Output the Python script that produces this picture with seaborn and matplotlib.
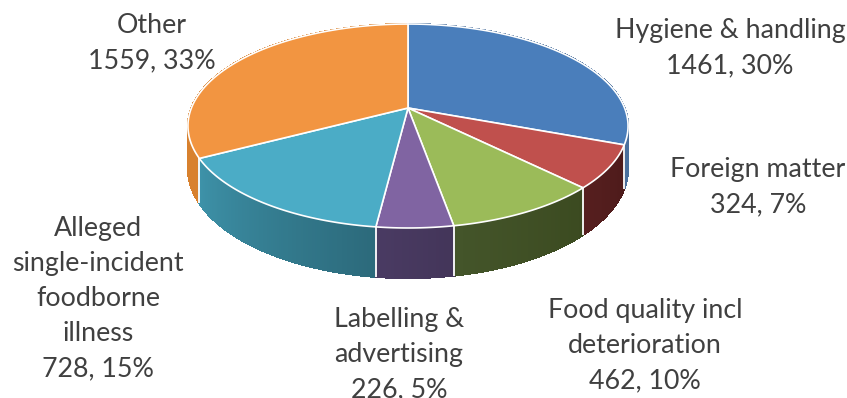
import numpy as np
import matplotlib
matplotlib.use("Agg")
import matplotlib.pyplot as plt
import seaborn as sns
from matplotlib.collections import PolyCollection

# data
categories = ["Hygiene & handling", "Foreign matter", "Food quality incl deterioration",
              "Labelling & advertising", "Alleged single-incident foodborne illness", "Other"]
counts = [1461, 324, 462, 226, 728, 1559]
pct_shown = [30, 7, 10, 5, 15, 33]
label_lines = [["Hygiene & handling"], ["Foreign matter"], ["Food quality incl", "deterioration"],
               ["Labelling &", "advertising"], ["Alleged", "single-incident", "foodborne", "illness"],
               ["Other"]]

top_colors = sns.color_palette(["#4a7ebb", "#c0504d", "#9bbb59", "#8064a2", "#4bacc6", "#f29541"])
# side colours: (right end, left end) as seen on screen
side_colors = [("#4a6f9c", "#4a6f9c"), ("#4d1a1a", "#561f1f"), ("#3b4a20", "#44552a"),
               ("#433559", "#4a3b63"), ("#2c6a7b", "#3e93aa"), ("#d8812e", "#d8812e")]

sns.set_theme(style="white")
plt.rcParams["font.family"] = ["Lato", "DejaVu Sans"]

# projection of the tilted disc (pixel space)
CX, CY = 408, 108
A, B, K, DEPTH = 216.6, 98.8, 0.1765, 41.2


def proj(phi, z=0.0):
    x = np.sin(phi)
    y = -np.cos(phi)
    d = 1 - K * y
    return CX + A * x / d, CY + (B * y + DEPTH * z) / d


fig = plt.figure(figsize=(8.47, 3.98), dpi=100)
ax = fig.add_axes([0, 0, 1, 1])
ax.set_xlim(0, 847)
ax.set_ylim(398, 0)
ax.axis("off")

total = float(sum(counts))
bounds = np.concatenate([[0], np.cumsum(counts)]) / total * 2 * np.pi

# side walls, painter's order
quads, qcols, qdepth = [], [], []
for i in range(len(counts)):
    a0, a1 = bounds[i], bounds[i + 1]
    n = max(4, int((a1 - a0) / 0.01))
    phis = np.linspace(a0, a1, n + 1)
    c_r = np.array(matplotlib.colors.to_rgb(side_colors[i][0]))
    c_l = np.array(matplotlib.colors.to_rgb(side_colors[i][1]))
    for j in range(n):
        p0, p1 = phis[j], phis[j + 1]
        x0, y0 = proj(p0)
        x1, y1 = proj(p1)
        x2, y2 = proj(p1, 1)
        x3, y3 = proj(p0, 1)
        quads.append([(x0, y0), (x1, y1), (x2, y2), (x3, y3)])
        t = (j + 0.5) / n
        qcols.append(tuple(c_r * (1 - t) + c_l * t))
        qdepth.append(-np.cos((p0 + p1) / 2))
order = np.argsort(qdepth)
pc = PolyCollection([quads[k] for k in order], facecolors=[qcols[k] for k in order],
                    edgecolors=[qcols[k] for k in order], linewidths=0.8, antialiaseds=False)
ax.add_collection(pc)

# white seams on the visible side wall
for b in bounds[1:-1]:
    if -np.cos(b) > K:
        xt, yt = proj(b)
        xb, yb = proj(b, 1)
        ax.plot([xt, xb], [yt, yb], color="white", lw=1.3, solid_capstyle="butt")

# top faces
for i in range(len(counts)):
    phis = np.linspace(bounds[i], bounds[i + 1], 200)
    xs, ys = proj(phis)
    xs = np.concatenate([[CX], xs])
    ys = np.concatenate([[CY], ys])
    ax.fill(xs, ys, facecolor=top_colors[i], edgecolor="white", lw=1.2, joinstyle="round")

# data labels: (centre x, first baseline)
label_pos = [(730, 38), (758, 177), (645, 318), (399, 327), (98, 236), (152, 33)]
for i in range(len(counts)):
    lines = label_lines[i] + [f"{counts[i]}, {pct_shown[i]}%"]
    x, y0 = label_pos[i]
    for k, ln in enumerate(lines):
        ax.text(x, y0 + 35 * k, ln, ha="center", va="baseline", fontsize=19.3, color="#404040")

fig.savefig("out.png", dpi=100)
